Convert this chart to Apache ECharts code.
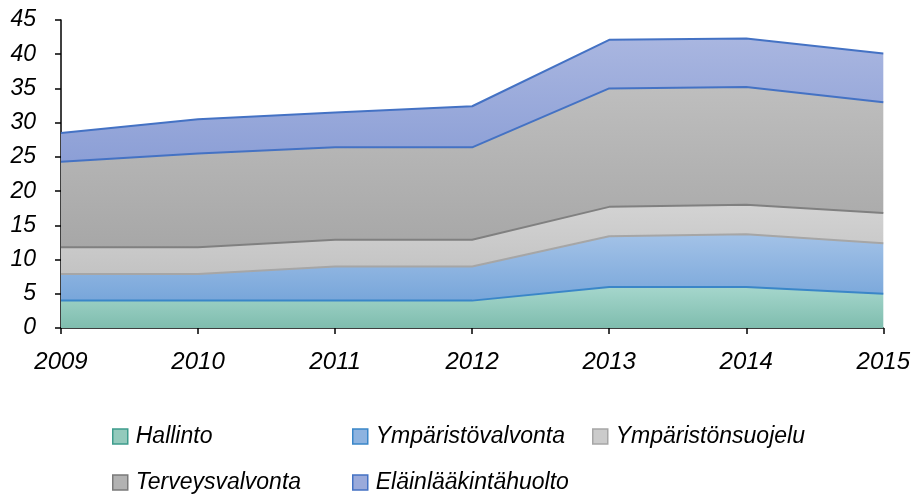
<!DOCTYPE html>
<html>
<head>
<meta charset="utf-8">
<script src="https://cdn.jsdelivr.net/npm/echarts@6/dist/echarts.min.js"></script>
<style>
  html, body { margin: 0; padding: 0; background: #fff; }
  #chart { width: 913px; height: 495px; }
</style>
</head>
<body>
<div id="chart"></div>
<script>
var years = ['2009', '2010', '2011', '2012', '2013', '2014', '2015'];
var hallinto = [4, 4, 4, 4, 6, 6, 5];
var ymparistovalvonta = [3.9, 3.9, 5, 5, 7.4, 7.7, 7.4];
var ymparistonsuojelu = [3.9, 3.9, 3.9, 3.9, 4.3, 4.3, 4.4];
var terveysvalvonta = [12.5, 13.7, 13.5, 13.5, 17.3, 17.2, 16.2];
var elainlaakinta = [4.2, 5.0, 5.1, 6.0, 7.1, 7.1, 7.1];

var font = 'Liberation Sans';

function grad(top, bottom) {
    return new echarts.graphic.LinearGradient(0, 0, 0, 1, [
        {offset: 0, color: top},
        {offset: 1, color: bottom}
    ]);
}

// fill gradient, legend fill/border, line on the top edge
var styles = {
    'Hallinto':            {top: '#a5d6cc', bot: '#7fbdae', fill: '#93cabc', border: '#3e9c8c', line: '#3a86c8'},
    'Ympäristövalvonta':   {top: '#a3c2e7', bot: '#78a6da', fill: '#8db3e0', border: '#3a86c8', line: '#a6a6a6'},
    'Ympäristönsuojelu':   {top: '#d3d3d3', bot: '#c3c3c3', fill: '#cbcbcb', border: '#a6a6a6', line: '#808080'},
    'Terveysvalvonta':     {top: '#bebebe', bot: '#a7a7a7', fill: '#b2b2b2', border: '#7a7a7a', line: '#4472c4'},
    'Eläinlääkintähuolto': {top: '#a9b6e0', bot: '#8c9fd6', fill: '#9aaadb', border: '#4472c4', line: '#4472c4'}
};

function makeSeries(name, data) {
    var s = styles[name];
    return {
        name: name,
        type: 'line',
        stack: 'total',
        symbol: 'none',
        data: data,
        itemStyle: {color: s.fill, borderColor: s.border, borderWidth: 1.5},
        lineStyle: {color: s.line, width: 2},
        areaStyle: {color: grad(s.top, s.bot), opacity: 1}
    };
}

// one legend per item so each sits where the reference has it
function makeLegend(name, left, top) {
    var s = styles[name];
    return {
        left: left,
        top: top,
        padding: 0,
        itemWidth: 15,
        itemHeight: 15,
        icon: 'rect',
        textStyle: {fontFamily: font, fontStyle: 'italic', fontSize: 23, color: '#000', padding: [0, 0, 0, 3]},
        data: [{name: name, itemStyle: {color: s.fill, borderColor: s.border, borderWidth: 1.5}}]
    };
}

var myChart = echarts.init(document.getElementById('chart'), null, {renderer: 'canvas'});

var option = {
    animation: false,
    backgroundColor: '#fff',
    grid: {left: 61, right: 29, top: 20, bottom: 167},
    legend: [
        makeLegend('Hallinto', 112, 425),
        makeLegend('Ympäristövalvonta', 352, 425),
        makeLegend('Ympäristönsuojelu', 592, 425),
        makeLegend('Terveysvalvonta', 112, 471),
        makeLegend('Eläinlääkintähuolto', 352, 471)
    ],
    xAxis: {
        type: 'category',
        boundaryGap: false,
        data: years,
        axisLine: {lineStyle: {color: '#000', width: 1.5}},
        axisTick: {show: true, length: 6, lineStyle: {color: '#000', width: 1.5}},
        axisLabel: {fontFamily: font, fontStyle: 'italic', fontSize: 24, color: '#000', margin: 22}
    },
    yAxis: {
        type: 'value',
        min: 0,
        max: 45,
        interval: 5,
        splitLine: {show: false},
        axisLine: {show: true, lineStyle: {color: '#000', width: 1.5}},
        axisTick: {show: true, length: 6, lineStyle: {color: '#000', width: 1.5}},
        axisLabel: {fontFamily: font, fontStyle: 'italic', fontSize: 23, color: '#000', margin: 25}
    },
    series: [
        makeSeries('Hallinto', hallinto),
        makeSeries('Ympäristövalvonta', ymparistovalvonta),
        makeSeries('Ympäristönsuojelu', ymparistonsuojelu),
        makeSeries('Terveysvalvonta', terveysvalvonta),
        makeSeries('Eläinlääkintähuolto', elainlaakinta)
    ]
};

myChart.setOption(option);
</script>
</body>
</html>
